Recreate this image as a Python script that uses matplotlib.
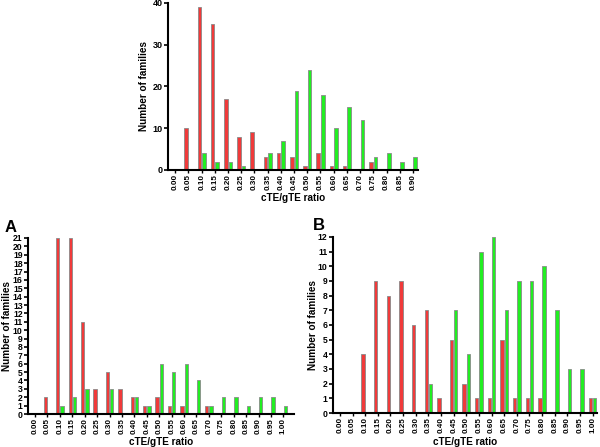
import matplotlib
matplotlib.use("Agg")
import matplotlib.pyplot as plt
import numpy as np

plt.rcParams['font.family'] = ['Liberation Sans', 'DejaVu Sans']
plt.rcParams['font.weight'] = 'bold'

cats_top = ["0.00", "0.05", "0.10", "0.15", "0.20", "0.25", "0.30", "0.35", "0.40", "0.45",
            "0.50", "0.55", "0.60", "0.65", "0.70", "0.75", "0.80", "0.85", "0.90"]
red_top = [0, 10, 39, 35, 17, 8, 9, 3, 4, 3, 1, 4, 1, 1, 0, 2, 0, 0, 0]
green_top = [0, 0, 4, 2, 2, 1, 0, 4, 7, 19, 24, 18, 10, 15, 12, 3, 4, 2, 3]

cats_ab = ["0.00", "0.05", "0.10", "0.15", "0.20", "0.25", "0.30", "0.35", "0.40", "0.45",
           "0.50", "0.55", "0.60", "0.65", "0.70", "0.75", "0.80", "0.85", "0.90", "0.95", "1.00"]
red_a = [0, 2, 21, 21, 11, 3, 5, 3, 2, 1, 2, 1, 1, 0, 1, 0, 0, 0, 0, 0, 0]
green_a = [0, 0, 1, 2, 3, 0, 3, 0, 2, 1, 6, 5, 6, 4, 1, 2, 2, 1, 2, 2, 1]
red_b = [0, 0, 4, 9, 8, 9, 6, 7, 1, 5, 2, 1, 1, 5, 1, 1, 1, 0, 0, 0, 1]
green_b = [0, 0, 0, 0, 0, 0, 0, 2, 0, 7, 4, 11, 12, 7, 9, 9, 10, 7, 3, 3, 1]

RED = '#f03a3a'
GREEN = '#22ee22'
EDGE = '#8a8a8a'

fig = plt.figure(figsize=(6.0, 4.47), dpi=100)


def draw(ax, cats, red, green, ymax, yticks, right_pad, ylab_x, xlab_y, ytick_size):
    x = np.arange(len(cats))
    w = 0.27
    ax.bar(x - 0.17, red, width=w, color=RED, edgecolor=EDGE, linewidth=0.6)
    ax.bar(x + 0.17, green, width=w, color=GREEN, edgecolor=EDGE, linewidth=0.6)
    ax.set_xlim(-0.55, len(cats) - 1 + right_pad)
    ax.set_ylim(0, ymax)
    ax.set_yticks(yticks)
    ax.set_xticks(x)
    ax.set_xticklabels(cats, rotation=90, fontsize=5.8, fontweight='bold')
    ax.tick_params(axis='y', labelsize=ytick_size, length=3, width=1.2, pad=1)
    ax.tick_params(axis='x', length=2, width=1.0, pad=1)
    for lab in ax.get_yticklabels():
        lab.set_fontweight('bold')
    for s in ['top', 'right']:
        ax.spines[s].set_visible(False)
    for s in ['left', 'bottom']:
        ax.spines[s].set_linewidth(1.5)
    ax.set_xlabel('cTE/gTE ratio', fontsize=7.2, fontweight='bold')
    ax.set_ylabel('Number of families', fontsize=7.2, fontweight='bold')
    ax.yaxis.set_label_coords(ylab_x, 0.5)
    ax.xaxis.set_label_coords(0.5, xlab_y)


ax_top = fig.add_axes([0.28, 0.6197, 0.417, 0.3736])
draw(ax_top, cats_top, red_top, green_top, 40, [0, 10, 20, 30, 40], 0.4, -0.075, -0.135, 6.5)

ax_a = fig.add_axes([0.047, 0.0738, 0.443, 0.3938])
draw(ax_a, cats_ab, red_a, green_a, 21, list(range(0, 22)), 0.85, -0.06, -0.13, 6.2)

ax_b = fig.add_axes([0.555, 0.076, 0.44, 0.394])
draw(ax_b, cats_ab, red_b, green_b, 12, list(range(0, 13)), 0.35, -0.055, -0.136, 6.2)

fig.text(5 / 600, 1 - 227 / 447, 'A', fontsize=12, fontweight='bold', va='center', ha='left')
fig.text(313 / 600, 1 - 226 / 447, 'B', fontsize=12, fontweight='bold', va='center', ha='left')

fig.savefig('out.png', dpi=100)
